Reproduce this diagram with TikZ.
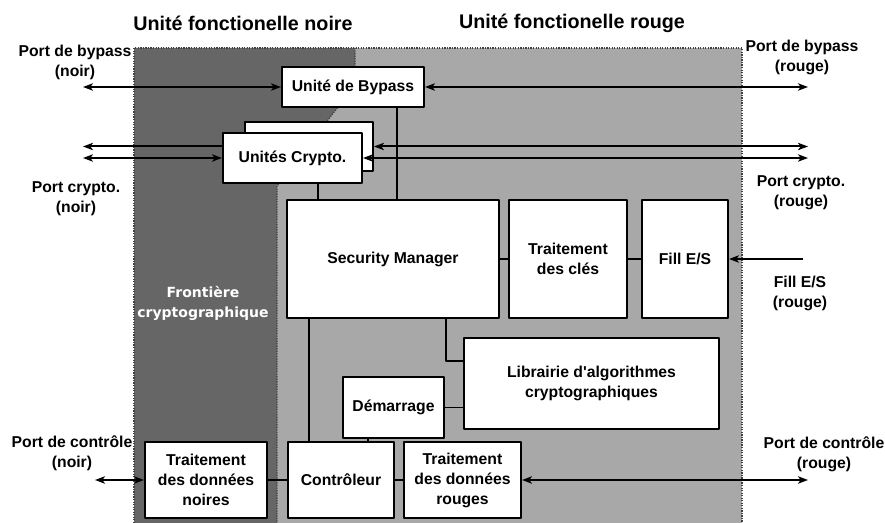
\documentclass[tikz,border=0pt]{standalone}
\usepackage{fontspec}
\setmainfont{Liberation Sans}
\newfontfamily\frontierefont{DejaVu Sans}
\usetikzlibrary{arrows.meta}
\definecolor{zonenoire}{gray}{0.4}
\definecolor{zonerouge}{gray}{0.66}
\begin{document}
\begin{tikzpicture}[x=0.75pt,y=-0.75pt,line join=round,>={Stealth[length=7.5pt,width=5.5pt,inset=2pt]},
    font=\fontsize{11.8}{15}\selectfont\bfseries]
    \tikzset{bloc/.style 2 args={draw,fill=white,line width=1.5pt,minimum width=#1*0.75pt,minimum height=#2*0.75pt,inner sep=0pt,align=center},
        lien/.style={line width=1.3pt},
        fleche/.style={line width=1.5pt},
        port/.style={align=center,inner sep=0pt},
        titre/.style={font=\fontsize{14.8}{18}\selectfont\bfseries},
        pointille/.style={densely dotted,line width=0.9pt,black!75}}
    \useasboundingbox (0,0) rectangle (885,523);
    \fill[zonerouge] (134,48) rectangle (742,523);
    \fill[zonenoire] (134,48) -- (355,48) -- (355,85) -- (277,186) -- (277,523) -- (134,523) -- cycle;
    \draw[pointille] (134,523) -- (134,48) -- (742,48) -- (742,523);
    \draw[pointille] (355,48) -- (355,85) -- (277,186) -- (277,523);
    \node[titre] (titrenoir) at (243,23) {Unité fonctionelle noire};
    \node[titre] (titrerouge) at (572,23) {Unité fonctionelle rouge};
    \node[text=white,align=center,font=\frontierefont\fontsize{10.5}{15}\selectfont\bfseries] (frontiere) at (203,303) {Frontière\\cryptographique};
    \node[bloc={142}{40}] (bypass) at (353,87) {Unité de Bypass};
    \node[bloc={128}{49}] (cryptoarriere) at (309,146.5) {};
    \node[bloc={139}{50}] (crypto) at (292.5,158) {Unités Crypto.};
    \node[bloc={212}{118}] (secu) at (393,259) {Security Manager};
    \node[bloc={118}{118}] (cles) at (568,259) {Traitement\\des clés};
    \node[bloc={86}{118}] (fill) at (685,259) {Fill E/S};
    \node[bloc={255}{91}] (librairie) at (591.5,383.5) {Librairie d\textquotesingle algorithmes\\cryptographiques};
    \node[bloc={101}{61}] (demarrage) at (393.5,407.5) {Démarrage};
    \node[bloc={106}{76}] (controleur) at (341,480) {Contrôleur};
    \node[bloc={117}{76}] (rouges) at (462.5,480) {Traitement\\des données\\rouges};
    \node[bloc={122}{76}] (noires) at (206,480) {Traitement\\des données\\noires};
    \node[port] (lbypassN) at (75,62) {Port de bypass\\(noir)};
    \node[port] (lcryptoN) at (76,199) {Port crypto.\\(noir)};
    \node[port] (lctlN) at (72,453) {Port de contrôle\\(noir)};
    \node[port] (lbypassR) at (802,57) {Port de bypass\\(rouge)};
    \node[port] (lcryptoR) at (801,193) {Port crypto.\\(rouge)};
    \node[port] (lfillR) at (800,293) {Fill E/S\\(rouge)};
    \node[port] (lctlR) at (824,454) {Port de contrôle\\(rouge)};
    \coordinate (pbN) at (83,87);
    \coordinate (pbR) at (808,87);
    \coordinate (pcN1) at (83,146.5);
    \coordinate (pcN2) at (83,158);
    \coordinate (pcR1) at (808,146.5);
    \coordinate (pcR2) at (808,158);
    \coordinate (pfR) at (803,259);
    \coordinate (ptN) at (95,480);
    \coordinate (ptR) at (808,480);
    \draw[lien] ([xshift=33pt]bypass.south) -- ([xshift=33pt]bypass.south |- secu.north);
    \draw[lien] ([xshift=19pt]crypto.south) -- ([xshift=19pt]crypto.south |- secu.north);
    \draw[lien] (secu.east) -- (cles.west);
    \draw[lien] (cles.east) -- (fill.west);
    \draw[lien] ([xshift=40pt]secu.south) |- ([yshift=17pt]librairie.west);
    \draw[lien] (demarrage.east) -- (demarrage.east -| librairie.west);
    \draw[lien] ([xshift=-19pt]demarrage.south) -- ([xshift=-19pt]demarrage.south |- controleur.north);
    \draw[lien] ([xshift=-63pt]secu.south) -- ([xshift=-63pt]secu.south |- controleur.north);
    \draw[lien] (noires.east) -- (controleur.west);
    \draw[lien] (controleur.east) -- (rouges.west);
    \draw[fleche,<->] (pbN) -- (bypass.west);
    \draw[fleche,<->] (bypass.east) -- (pbR);
    \draw[fleche,->] (crypto.west |- pcN1) -- (pcN1);
    \draw[fleche,<->] (pcN2) -- (crypto.west);
    \draw[fleche,<->] (cryptoarriere.east) -- (pcR1);
    \draw[fleche,<->] (crypto.east) -- (pcR2);
    \draw[lien,->] (pfR) -- (fill.east);
    \draw[fleche,<->] (ptN) -- (noires.west);
    \draw[fleche,<->] (rouges.east) -- (ptR);
\end{tikzpicture}
\end{document}
